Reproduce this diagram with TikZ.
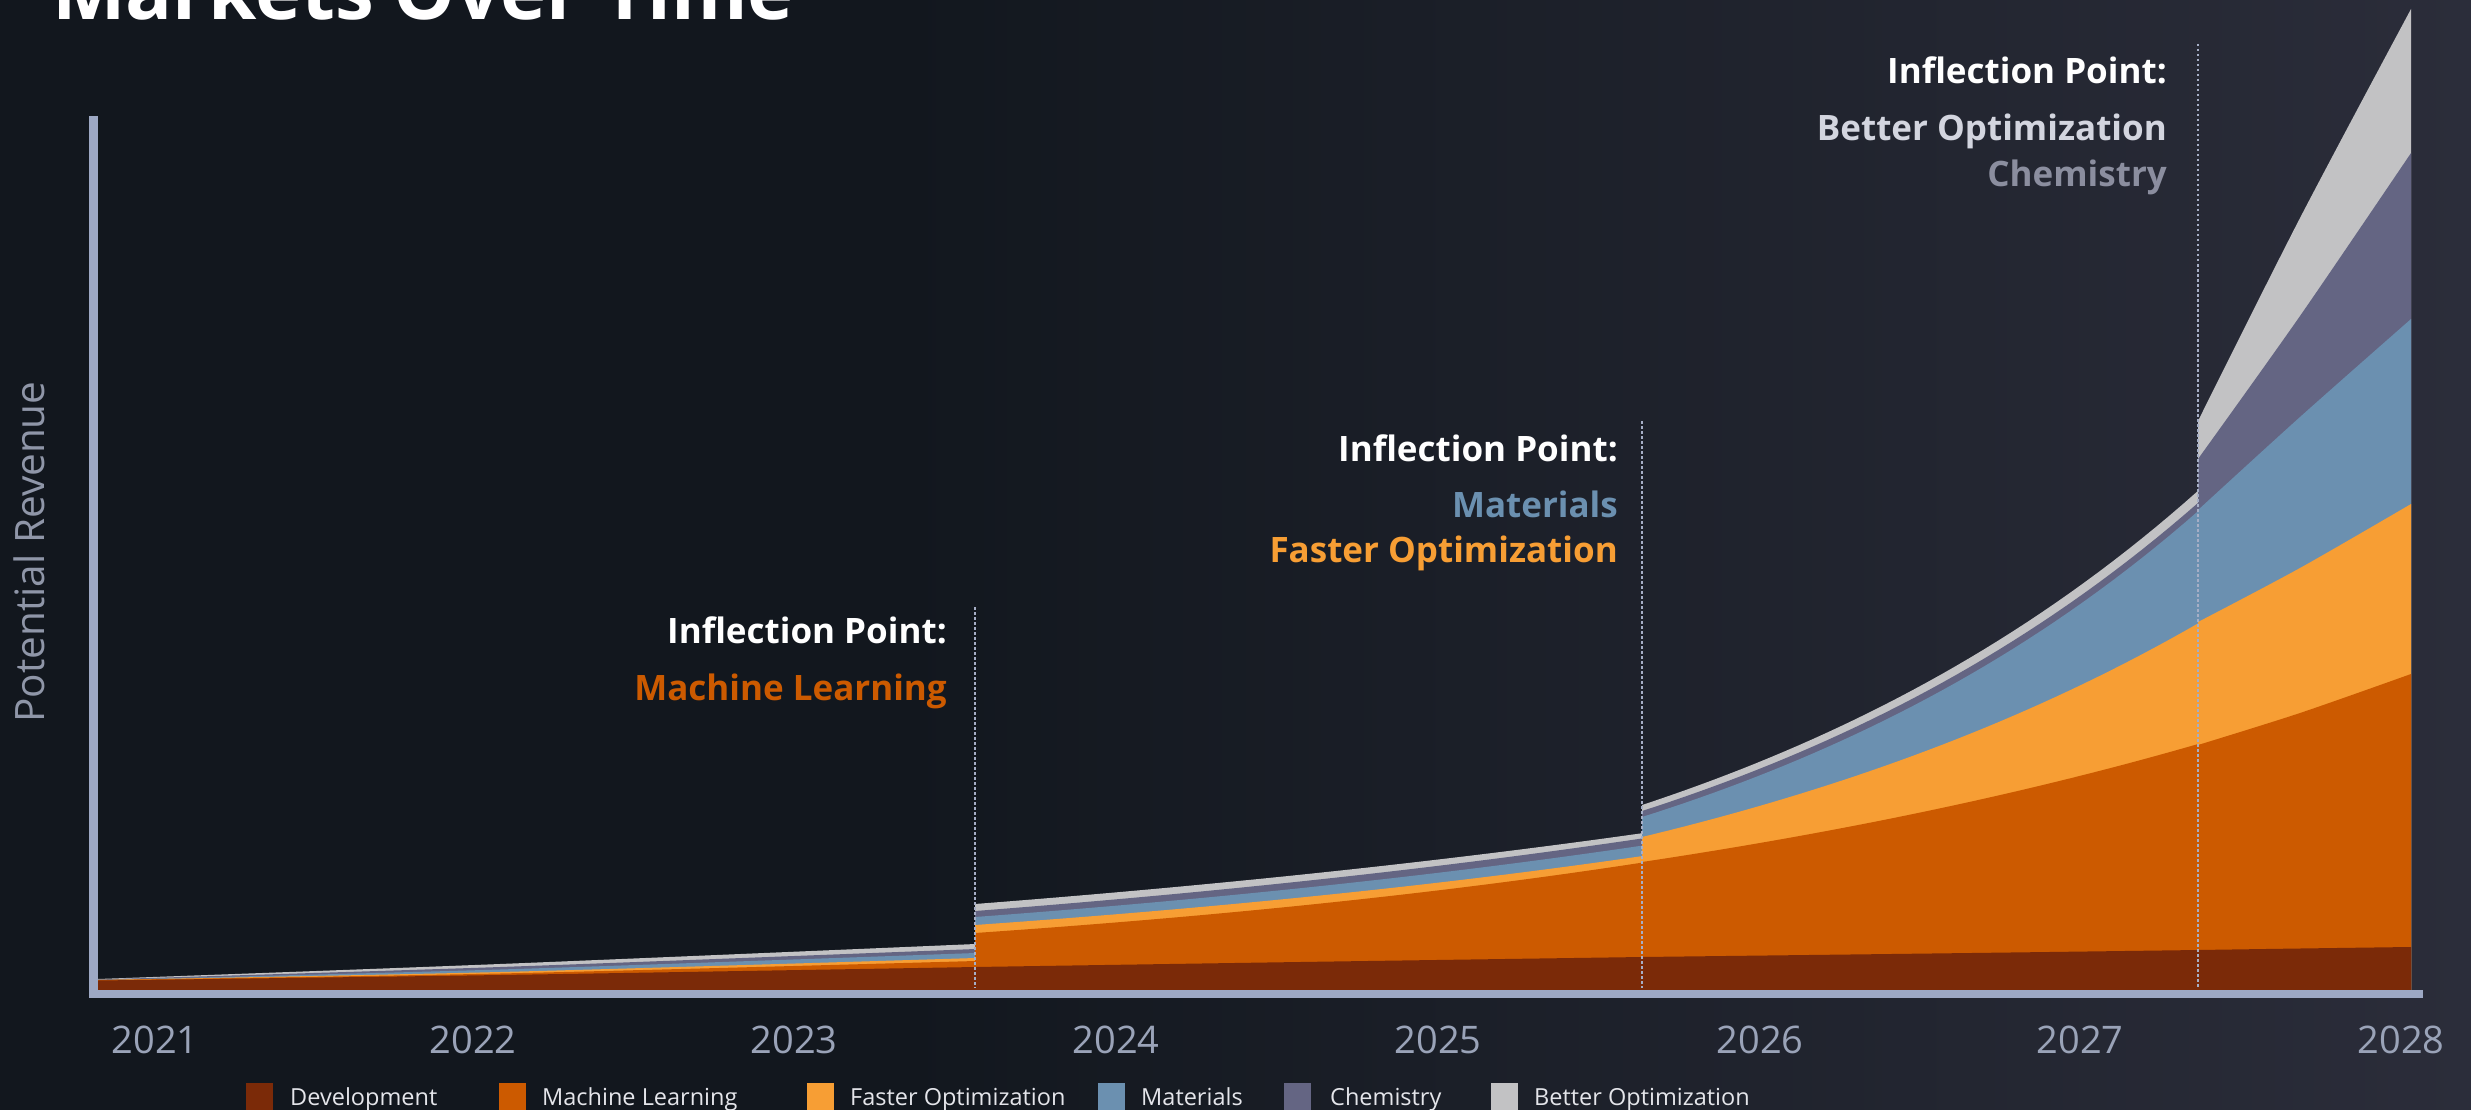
\documentclass[tikz,border=0pt]{standalone}
\usepackage{fontspec}
\setmainfont{Open Sans}
\definecolor{cdev}{HTML}{7B2A08}
\definecolor{cml}{HTML}{CC5A00}
\definecolor{cfo}{HTML}{F79E34}
\definecolor{cmat}{HTML}{6B90B0}
\definecolor{cchem}{HTML}{646583}
\definecolor{cbo}{HTML}{C2C2C4}
\definecolor{caxis}{HTML}{9DA8C4}
\definecolor{cdot}{HTML}{A6AEC6}
\definecolor{bgL}{HTML}{12171E}
\definecolor{bgR}{HTML}{2B2D3A}
\definecolor{cyear}{HTML}{9AA3B8}
\definecolor{cleg}{HTML}{E4E5EA}
\definecolor{cbotxt}{HTML}{D3D5DF}
\definecolor{cchemtxt}{HTML}{8B8E9F}
\definecolor{cylab}{HTML}{8F96A8}
% smooth through points
\newcommand{\areafill}[4]{\fill[#1] (#2,990) -- plot[smooth] coordinates {#4} -- (#3,990) -- cycle;}
% exponential top: colour, x0, x1, h0, k
\newcommand{\expfill}[5]{\fill[#1] (#2,990) -- plot[domain=#2:#3, samples=40] (\x, {990-#4*exp(#5*(\x-#2))}) -- (#3,990) -- cycle;}
\tikzset{
  anntitle/.style={inner sep=0pt, anchor=base east, text=white, font=\fontsize{35}{40}\selectfont\bfseries},
  annsub/.style={inner sep=0pt, anchor=base east, font=\fontsize{35}{40}\selectfont\bfseries},
  yearlbl/.style={inner sep=0pt, anchor=center, text=cyear, font=\fontsize{38}{42}\selectfont},
  legsq/.style={inner sep=0pt, minimum width=27pt, minimum height=27pt, anchor=north west},
  legtxt/.style={inner sep=0pt, anchor=base west, text=cleg, font=\fontsize{23.5}{26}\selectfont},
  dotline/.style={cdot, line width=2.5pt, dash pattern=on 2.5pt off 2.5pt},
}
\begin{document}
\begin{tikzpicture}[x=1pt,y=-1pt]
\useasboundingbox (0,0) rectangle (2471,1110);
% background
\fill[bgL] (0,0) rectangle (2471,1110);
\shade[left color=bgL, right color=bgR] (900,0) rectangle (2471,1110);
% title
\node[inner sep=0pt, anchor=base west, text=white, font=\fontsize{78}{86}\selectfont\bfseries] (title) at (52,20) {Markets Over Time};
% ---- segment A
\areafill{cbo}{98}{975.5}{(98,979) (500,964) (975.5,944)}
\areafill{cchem}{98}{975.5}{(98,979.5) (500,967) (975.5,949)}
\areafill{cmat}{98}{975.5}{(98,980) (500,969.5) (975.5,953)}
\areafill{cfo}{98}{975.5}{(98,980) (500,972) (975.5,958)}
\areafill{cml}{98}{975.5}{(98,980) (500,973.5) (975.5,961)}
\areafill{cdev}{98}{975.5}{(98,980.5) (500,975) (975.5,967)}
% ---- segment B
\expfill{cbo}{975}{1642.5}{86}{0.000893}
\expfill{cchem}{975}{1642.5}{79}{0.000971}
\expfill{cmat}{975}{1642.5}{73}{0.001019}
\expfill{cfo}{975}{1642.5}{65}{0.001085}
\expfill{cml}{975}{1642.5}{57}{0.001201}
\areafill{cdev}{975}{1642.5}{(975,967) (1300,962) (1642.5,957)}
% ---- segment C
\expfill{cbo}{1642}{2198.5}{185}{0.00178}
\expfill{cchem}{1642}{2198.5}{179}{0.001804}
\expfill{cmat}{1642}{2198.5}{173}{0.001828}
\expfill{cfo}{1642}{2198.5}{153}{0.001578}
\expfill{cml}{1642}{2198.5}{128}{0.001168}
\areafill{cdev}{1642}{2198.5}{(1642,957) (1891,954) (2049,952) (2198.5,950)}
% ---- segment D
\areafill{cbo}{2198}{2411}{(2198,421) (2300,218) (2411,9)}
\areafill{cchem}{2198}{2411}{(2198,459) (2300,316) (2411,153)}
\areafill{cmat}{2198}{2411}{(2198,510) (2300,417) (2411,319)}
\areafill{cfo}{2198}{2411}{(2198,622) (2300,568) (2411,504)}
\areafill{cml}{2198}{2411}{(2198,745) (2300,713) (2411,674)}
\areafill{cdev}{2198}{2411}{(2198,950) (2300,948.5) (2411,947)}
% dotted inflection lines
\coordinate (d1t) at (975,607); \coordinate (d1b) at (975,988);
\coordinate (d2t) at (1642,421); \coordinate (d2b) at (1642,988);
\coordinate (d3t) at (2198,44); \coordinate (d3b) at (2198,988);
\draw[dotline] (d1t) -- (d1b);
\draw[dotline] (d2t) -- (d2b);
\draw[dotline] (d3t) -- (d3b);
% axes
\fill[caxis] (89,116) rectangle (98,998);
\fill[caxis] (89,990) rectangle (2423,998);
% y label
\node[inner sep=0pt, rotate=90, anchor=base, text=cylab, font=\fontsize{40.5}{44}\selectfont] (ylab) at (44,552) {Potential Revenue};
% annotations
\node[anntitle] (a1) at (947,643) {Inflection Point:};
\node[annsub, text=cml] (a1s) at (947,700) {Machine Learning};
\node[anntitle] (a2) at (1618,461) {Inflection Point:};
\node[annsub, text=cmat] (a2s) at (1618,517) {Materials};
\node[annsub, text=cfo] (a2t) at (1618,562) {Faster Optimization};
\node[anntitle] (a3) at (2167,84) {Inflection Point:};
\node[annsub, text=cbotxt] (a3s) at (2167,141) {Better Optimization};
\node[annsub, text=cchemtxt] (a3t) at (2167,187) {Chemistry};
% years
\node[yearlbl] (y1) at (155,1040) {2021};
\node[yearlbl] (y2) at (473,1040) {2022};
\node[yearlbl] (y3) at (794,1040) {2023};
\node[yearlbl] (y4) at (1116,1040) {2024};
\node[yearlbl] (y5) at (1438,1040) {2025};
\node[yearlbl] (y6) at (1760,1040) {2026};
\node[yearlbl] (y7) at (2080,1040) {2027};
\node[yearlbl] (y8) at (2401,1040) {2028};
% legend
\node[legsq, fill=cdev] (l1) at (246,1083) {};
\node[legtxt] (t1) at (290,1105) {Development};
\node[legsq, fill=cml] (l2) at (499,1083) {};
\node[legtxt] (t2) at (542,1105) {Machine Learning};
\node[legsq, fill=cfo] (l3) at (807,1083) {};
\node[legtxt] (t3) at (850,1105) {Faster Optimization};
\node[legsq, fill=cmat] (l4) at (1098,1083) {};
\node[legtxt] (t4) at (1141,1105) {Materials};
\node[legsq, fill=cchem] (l5) at (1284,1083) {};
\node[legtxt] (t5) at (1330,1105) {Chemistry};
\node[legsq, fill=cbo] (l6) at (1491,1083) {};
\node[legtxt] (t6) at (1534,1105) {Better Optimization};
\end{tikzpicture}
\end{document}
